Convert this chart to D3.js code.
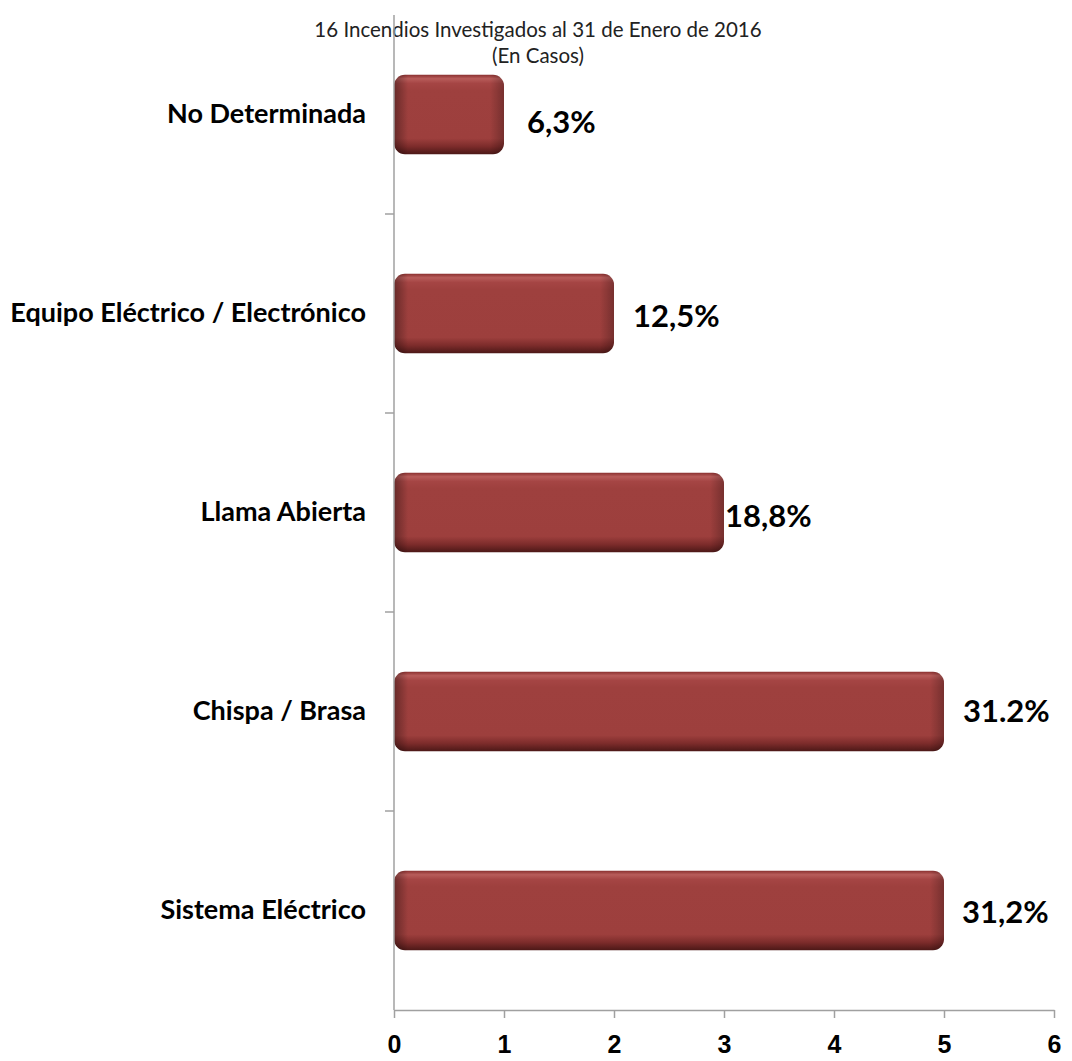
<!DOCTYPE html>
<html>
<head>
<meta charset="utf-8">
<script src="https://cdn.jsdelivr.net/npm/d3@7"></script>
<style>
  body { margin: 0; background: #fff; }
  svg { display: block; }
</style>
</head>
<body>
<svg id="chart"></svg>
<script>
// categories from top to bottom, values in cases
var categories = ["No Determinada", "Equipo Eléctrico / Electrónico", "Llama Abierta", "Chispa / Brasa", "Sistema Eléctrico"];
var values = [1, 2, 3, 5, 5];
var valueLabels = ["6,3%", "12,5%", "18,8%", "31.2%", "31,2%"];
var xTicks = [0, 1, 2, 3, 4, 5, 6];
var titleLines = ["16 Incendios Investigados al 31 de Enero de 2016", "(En Casos)"];

// the original labels were nudged by hand, keep that
var labelDx = [23, 19, 1, 19, 18];
var labelDy = [8, 3, 4, 0, 2];

var width = 1072, height = 1061;
var margin = { top: 15, right: 18, bottom: 51, left: 394 };

var svg = d3.select("#chart").attr("width", width).attr("height", height);

var x = d3.scaleLinear().domain([0, 6]).range([margin.left, width - margin.right]);
var y = d3.scaleBand().domain(categories).range([margin.top, height - margin.bottom]).paddingInner(0.6).paddingOuter(0.3);

// title
svg.append("g").selectAll("text")
  .data(titleLines)
  .enter().append("text")
    .attr("x", 538)
    .attr("y", function (d, i) { return 37 + i * 26 })
    .attr("text-anchor", "middle")
    .attr("font-family", "Lato, 'Open Sans', sans-serif")
    .attr("font-size", 20.5)
    .attr("fill", "#222")
    .text(function (d) { return d })

var defs = svg.append("defs");

// vertical shading of the bars
var vg = defs.append("linearGradient").attr("id", "barV").attr("x1", 0).attr("y1", 0).attr("x2", 0).attr("y2", 1);
[["0%", "#8a302f"], ["5%", "#b85c5a"], ["11%", "#a54544"], ["20%", "#9e403e"], ["80%", "#9d3f3d"], ["90%", "#7d2c2b"], ["100%", "#4c1817"]]
  .forEach(function (s) { vg.append("stop").attr("offset", s[0]).attr("stop-color", s[1]) });

// left / right edge darkening, one per bar since widths differ
values.forEach(function (v, i) {
  var w = x(v) - x(0);
  var e = 14 / w;
  var hg = defs.append("linearGradient").attr("id", "barH" + i).attr("x1", 0).attr("y1", 0).attr("x2", 1).attr("y2", 0);
  hg.append("stop").attr("offset", 0).attr("stop-color", "#000").attr("stop-opacity", 0.35);
  hg.append("stop").attr("offset", e).attr("stop-color", "#000").attr("stop-opacity", 0);
  hg.append("stop").attr("offset", 1 - e).attr("stop-color", "#000").attr("stop-opacity", 0);
  hg.append("stop").attr("offset", 1).attr("stop-color", "#000").attr("stop-opacity", 0.25);
});

var bars = svg.append("g").attr("class", "bars").selectAll("g")
  .data(values)
  .enter().append("g");

bars.append("rect")
  .attr("x", x(0))
  .attr("y", function (d, i) { return y(categories[i]) })
  .attr("width", function (d) { return x(d) - x(0) })
  .attr("height", y.bandwidth())
  .attr("rx", 11)
  .attr("fill", "url(#barV)")

bars.append("rect")
  .attr("x", x(0))
  .attr("y", function (d, i) { return y(categories[i]) })
  .attr("width", function (d) { return x(d) - x(0) })
  .attr("height", y.bandwidth())
  .attr("rx", 11)
  .attr("fill", function (d, i) { return "url(#barH" + i + ")" })

// value labels
svg.append("g").selectAll("text")
  .data(values)
  .enter().append("text")
    .attr("x", function (d, i) { return x(d) + labelDx[i] })
    .attr("y", function (d, i) { return y(categories[i]) + y.bandwidth() / 2 + labelDy[i] })
    .attr("dy", "0.35em")
    .attr("font-family", "Lato, 'Open Sans', sans-serif")
    .attr("font-weight", "bold")
    .attr("font-size", 31)
    .attr("fill", "#000")
    .text(function (d, i) { return valueLabels[i] })

// y axis
var yAxis = svg.append("g")
  .attr("transform", "translate(" + x(0) + ",0)")
  .call(d3.axisLeft(y).tickSize(0).tickPadding(28));
yAxis.select(".domain").attr("stroke", "#a0a0a0").attr("stroke-width", 1.5)
  .attr("d", "M0," + margin.top + "V" + (height - margin.bottom));
yAxis.selectAll("text")
  .attr("font-family", "Lato, 'Open Sans', sans-serif")
  .attr("font-weight", "bold")
  .attr("font-size", 27)
  .attr("fill", "#000")

// separators between categories
var seps = d3.range(1, categories.length).map(function (i) { return margin.top + i * (height - margin.top - margin.bottom) / categories.length });
svg.append("g").selectAll("line")
  .data(seps)
  .enter().append("line")
    .attr("x1", x(0) - 9).attr("x2", x(0))
    .attr("y1", function (d) { return d }).attr("y2", function (d) { return d })
    .attr("stroke", "#a0a0a0").attr("stroke-width", 1.5)

// x axis
var xAxis = svg.append("g")
  .attr("transform", "translate(0," + (height - margin.bottom) + ")")
  .call(d3.axisBottom(x).tickValues(xTicks).tickFormat(d3.format("d")).tickSize(8).tickSizeOuter(0).tickPadding(17));
xAxis.select(".domain").attr("stroke", "#a0a0a0").attr("stroke-width", 1.5);
xAxis.selectAll(".tick line").attr("stroke", "#a0a0a0").attr("stroke-width", 1.5);
xAxis.selectAll("text")
  .attr("font-family", "'Liberation Sans', Arial, sans-serif")
  .attr("font-weight", "bold")
  .attr("font-size", 25)
  .attr("fill", "#000")
</script>
</body>
</html>
